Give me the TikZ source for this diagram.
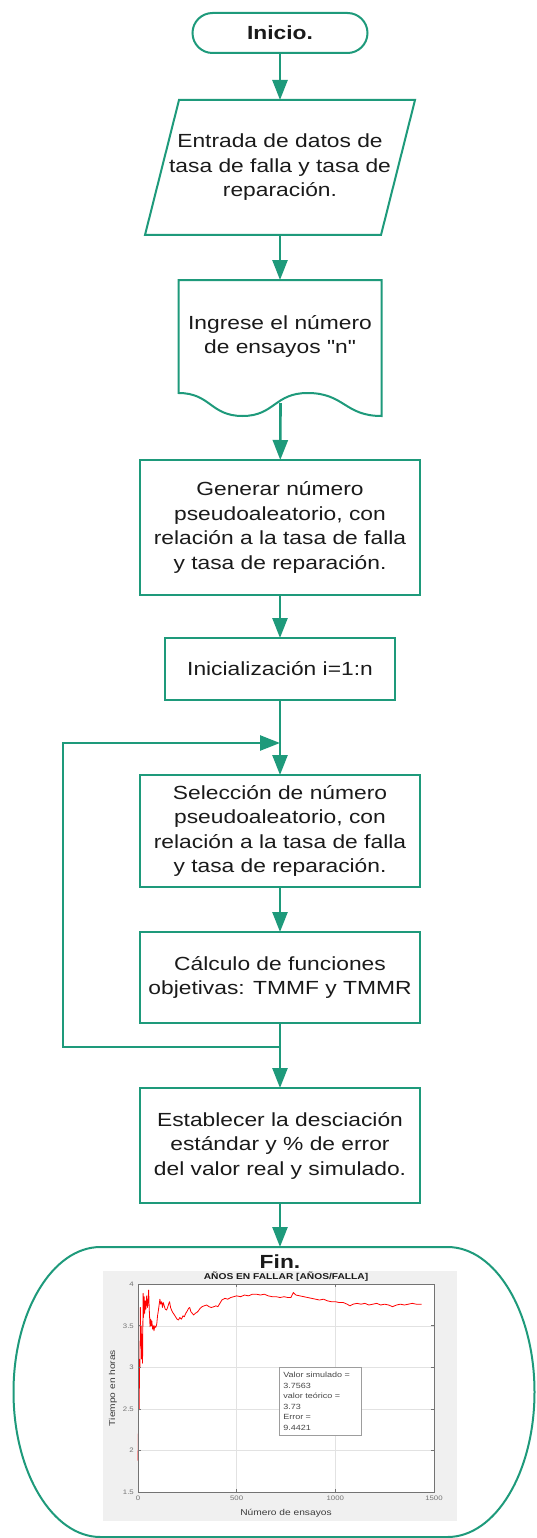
\documentclass[tikz,border=0pt]{standalone}
\usepackage{fontspec}
\setmainfont{Liberation Sans}[FakeStretch=1.2]
\newfontfamily\rawfont{Liberation Sans}[FakeStretch=1.2]
\usetikzlibrary{shapes,arrows.meta,positioning,calc}
\definecolor{flowcol}{HTML}{1E9A7B}
\definecolor{textcol}{HTML}{1A1A1A}
\definecolor{plotbg}{HTML}{F0F0F0}
\definecolor{gridcol}{HTML}{E2E2E2}
\definecolor{axiscol}{HTML}{737373}
\tikzstyle{flow} = [-{Triangle[width=15pt,length=20pt]},flowcol,line width=2.6pt]
\tikzstyle{plain flow} = [flowcol,line width=2.6pt]
\tikzset{
  outline/.style = {
    draw = flowcol,
    line width = 2pt,
    },
  basic box/.style = {
    shape = rectangle,
    outline,
    text = textcol,
    align = center,
    inner sep = 0pt,
    outer sep = 0pt,
    font = \fontsize{19}{24.5}\selectfont,
    },
  process/.style = {
    basic box,
    minimum width = 280pt,
  },
  terminal/.style = {
    basic box,
    shape = rounded rectangle,
    font = \fontsize{19}{24.5}\selectfont\bfseries,
  },
  io box/.style = {
    basic box,
    draw = none,
  },
  doc box/.style = {
    basic box,
    draw = none,
  },
  fin box/.style = {
    basic box,
    draw = none,
  },
  tick label/.style = {
    font = \fontsize{6.5}{7}\selectfont,
    text = axiscol,
    inner sep = 1pt,
  },
  plot label/.style = {
    font = \fontsize{8.5}{9}\selectfont,
    text = textcol!85,
    inner sep = 0pt,
  },
}

\begin{document}
\begin{tikzpicture}[x=1pt,y=-1pt]

    \useasboundingbox (0,0) rectangle (537,1538);

    % flow boxes
    \node[terminal, minimum width=175pt, minimum height=40pt] (inicio) at (280,33) {Inicio.};
    \node[io box, minimum width=236pt, minimum height=135pt, below=47pt of inicio] (entrada)
        {Entrada de datos de\\tasa de falla y tasa de\\reparación.};
    \node[doc box, minimum width=203pt, minimum height=113pt, below=45pt of entrada] (ensayos)
        {Ingrese el número\\de ensayos {\rawfont "n"}};
    \node[process, minimum height=135pt, below=67pt of ensayos] (generar)
        {Generar número\\pseudoaleatorio, con\\relación a la tasa de falla\\y tasa de reparación.};
    \node[process, minimum width=230pt, minimum height=62pt, below=43pt of generar] (inicializacion)
        {Inicialización i=1:n};
    \node[process, minimum height=112pt, below=75pt of inicializacion] (seleccion)
        {Selección de número\\pseudoaleatorio, con\\relación a la tasa de falla\\y tasa de reparación.};
    \node[process, minimum height=91pt, below=45pt of seleccion] (calculo)
        {Cálculo de funciones\\objetivas: TMMF y TMMR};
    \node[process, minimum height=115pt, below=65pt of calculo] (establecer)
        {Establecer la desciación\\estándar y \% de error\\del valor real y simulado.};
    \node[fin box, minimum width=521pt, minimum height=290pt] (fin) at (274,1392) {};
    \node[font=\fontsize{19}{20}\selectfont\bfseries, text=textcol, inner sep=0pt] (finlabel) at (280,1262) {Fin.};

    % input, document and end outlines
    \draw[outline] ([xshift=17pt]entrada.north west) -- ([xshift=17pt]entrada.north east)
        -- ([xshift=-17pt]entrada.south east) -- ([xshift=-17pt]entrada.south west) -- cycle;

    \draw[outline] (ensayos.south west) -- (ensayos.north west) -- (ensayos.north east)
        -- ($(ensayos.south east)+(0,23)$)
        .. controls ($(ensayos.south west)+(166,23)$) and ($(ensayos.south west)+(166,0)$) .. ($(ensayos.south west)+(129,0)$)
        .. controls ($(ensayos.south west)+(96,0)$) and ($(ensayos.south west)+(96,23)$) .. ($(ensayos.south west)+(64,23)$)
        .. controls ($(ensayos.south west)+(32,23)$) and ($(ensayos.south west)+(32,0)$) .. cycle;
    \coordinate (ensayos-out) at ($(ensayos.south west)+(102,10)$);

    \draw[outline] ([xshift=87pt]fin.north west) -- ([xshift=-87pt]fin.north east)
        arc[start angle=90, end angle=-90, x radius=87pt, y radius=145pt]
        -- ([xshift=87pt]fin.south west)
        arc[start angle=270, end angle=90, x radius=87pt, y radius=145pt] -- cycle;

    % plot inside end box
    \fill[plotbg] (103,1271) rectangle (457,1521);
    \begin{scope}[shift={(138,1617)}, x=0.19733pt, y=83.2pt]
        \fill[white] (0,1.5) rectangle (1500,4);
        \foreach \n in {500,1000}
            \draw[gridcol, line width=0.6pt] (\n,1.5) -- (\n,4);
        \foreach \v in {2,2.5,3,3.5}
            \draw[gridcol, line width=0.6pt] (0,\v) -- (1500,\v);
        \draw[red, line width=0.8pt, line join=round] plot coordinates {
            (0,1.88) (2,2.2) (4,2.75) (6,2.5) (8,3.1) (10,3.0) (12,3.72) (14,3.3) (16,3.5)
            (18,3.1) (20,3.4) (23,3.05) (26,3.89) (28,3.6) (31,3.85) (34,3.65) (37,3.8)
            (40,3.7) (44,3.86) (48,3.72) (51,3.8) (54,3.93) (57,3.7) (61,3.49) (64,3.58)
            (67,3.5) (70,3.56) (74,3.46) (78,3.5) (81,3.44) (85,3.5) (90,3.48) (95,3.52)
            (99,3.62) (103,3.68) (107,3.75) (111,3.82) (115,3.76) (120,3.79) (124,3.72)
            (128,3.78) (133,3.74) (138,3.70) (145,3.69) (150,3.72) (155,3.76) (160,3.79)
            (165,3.72) (170,3.69) (176,3.66) (182,3.64) (190,3.61) (198,3.58) (205,3.57)
            (212,3.6) (220,3.58) (228,3.62) (235,3.61) (242,3.65) (250,3.68) (256,3.71)
            (262,3.72) (268,3.67) (275,3.65) (282,3.63) (290,3.65) (298,3.66) (306,3.68)
            (315,3.71) (325,3.73) (335,3.74) (348,3.75) (360,3.73) (372,3.72) (385,3.73)
            (395,3.74) (405,3.73) (415,3.77) (425,3.81) (440,3.83) (455,3.82) (470,3.84)
            (485,3.85) (500,3.86) (520,3.85) (540,3.87) (560,3.86) (580,3.88) (600,3.88)
            (620,3.87) (640,3.88) (660,3.86) (680,3.85) (700,3.85) (720,3.84) (740,3.85)
            (760,3.84) (775,3.84) (787,3.9) (800,3.87) (820,3.86) (840,3.85) (860,3.84)
            (880,3.83) (900,3.82) (920,3.81) (940,3.82) (960,3.80) (980,3.79) (1000,3.79)
            (1020,3.78) (1040,3.78) (1060,3.76) (1074,3.74) (1090,3.76) (1110,3.77)
            (1130,3.76) (1150,3.77) (1170,3.75) (1190,3.76) (1210,3.77) (1230,3.75)
            (1250,3.76) (1270,3.75) (1290,3.73) (1310,3.75) (1330,3.76) (1350,3.75)
            (1370,3.76) (1390,3.77) (1410,3.76) (1437,3.76)};
        \draw[axiscol, line width=0.7pt] (0,1.5) rectangle (1500,4);
        \foreach \v in {2,2.5,3,3.5} {
            \draw[axiscol, line width=0.7pt] (0,\v) -- ++(3pt,0);
            \draw[axiscol, line width=0.7pt] (1500,\v) -- ++(-3pt,0);
        }
        \foreach \n in {500,1000} {
            \draw[axiscol, line width=0.7pt] (\n,1.5) -- ++(0,3pt);
            \draw[axiscol, line width=0.7pt] (\n,4) -- ++(0,-3pt);
        }
        \foreach \v [count=\k] in {1.5,2,2.5,3,3.5,4}
            \node[tick label, anchor=east] (ytick\k) at ([xshift=-3pt]0,\v) {\v};
        \foreach \n [count=\k] in {0,500,1000,1500}
            \node[tick label, anchor=north] (xtick\k) at ([yshift=-3pt]\n,1.5) {\n};
    \end{scope}

    \node[plot label, font=\fontsize{8.5}{9}\selectfont\bfseries, text=textcol] (titulo) at (286,1277)
        {AÑOS EN FALLAR [AÑOS/FALLA]};
    \node[plot label] (xlabel) at (286,1513) {Número de ensayos};
    \node[plot label, rotate=90] (ylabel) at (113,1388) {Tiempo en horas};
    \node[draw=axiscol!70, fill=white, line width=0.5pt, anchor=north west, align=left,
        text width=74pt, minimum height=68pt, inner xsep=4pt, inner ysep=2pt,
        font=\fontsize{7.5}{10.5}\selectfont, text=textcol!80] (leyenda) at (279,1367)
        {Valor simulado =\\3.7563\\valor teórico =\\3.73\\Error =\\9.4421};

    % Paths
    \coordinate[below=24pt of calculo.south] (split);
    \coordinate[above=32pt of seleccion.north] (merge);
    \coordinate[left=217pt of split] (loop-bottom);
    \coordinate[left=217pt of merge] (loop-top);

    \draw[flow] (inicio) -- (entrada);
    \draw[flow] (entrada) -- (ensayos);
    \draw[flow] (ensayos-out) -- (generar);
    \draw[flow] (generar) -- (inicializacion);
    \draw[flow] (inicializacion) -- (seleccion);
    \draw[flow] (seleccion) -- (calculo);
    \draw[plain flow] (calculo.south) -- (split);
    \draw[flow] (split) -- (establecer);
    \draw[flow] (split) -- (loop-bottom) -- (loop-top) -- (merge);
    \draw[flow] (establecer.south) -- (establecer.south |- fin.north);

\end{tikzpicture}
\end{document}
